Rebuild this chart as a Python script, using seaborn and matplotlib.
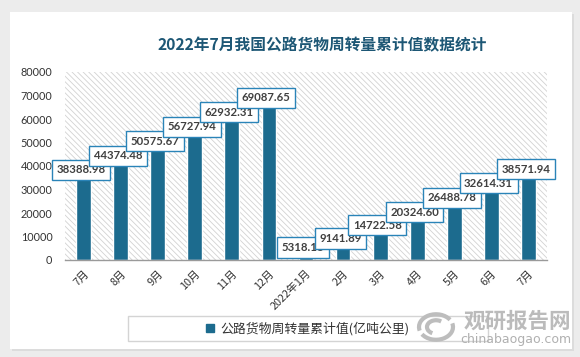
import matplotlib
matplotlib.use('Agg')
import matplotlib.pyplot as plt
import seaborn as sns
import pandas as pd
from matplotlib.patches import Rectangle, Arc
from matplotlib.lines import Line2D

# ---- data ----
categories = ['7月', '8月', '9月', '10月', '11月', '12月', '2022年1月',
              '2月', '3月', '4月', '5月', '6月', '7月']
values = [38388.98, 44374.48, 50575.67, 56727.94, 62932.31, 69087.65, 5318.18,
          9141.89, 14722.58, 20324.60, 26488.78, 32614.31, 38571.94]
series_name = '公路货物周转量累计值(亿吨公里)'
title_text = '2022年7月我国公路货物周转量累计值数据统计'
yticks = [0, 10000, 20000, 30000, 40000, 50000, 60000, 70000, 80000]

BAR = '#1c6b8e'
df = pd.DataFrame({'pos': list(range(len(values))), 'value': values})

sns.set_style('white')
plt.rcParams['font.family'] = ['Lato', 'Noto Sans CJK SC', 'DejaVu Sans']
plt.rcParams['hatch.linewidth'] = 0.6

fig = plt.figure(figsize=(5.8, 3.57), dpi=100, facecolor='#ececec')
W, H = 580, 357

# white card
fig.patches.append(Rectangle((12 / W, (H - 351) / H), 562 / W, (351 - 14) / H,
                             transform=fig.transFigure, facecolor='#dcdcdc',
                             edgecolor='none', zorder=-20))
fig.patches.append(Rectangle((10 / W, (H - 349) / H), 562 / W, (349 - 12) / H,
                             transform=fig.transFigure, facecolor='white',
                             edgecolor='none', zorder=-10))

ax = fig.add_axes([65 / W, (H - 260) / H, (547 - 65) / W, (260 - 72) / H])
ax.set_facecolor('none')
ax.add_patch(Rectangle((0, 0), 1, 1, transform=ax.transAxes, facecolor='white',
                       edgecolor='#d2d2d2', hatch='\\\\\\\\\\\\', lw=0, zorder=0))

sns.barplot(data=df, x='pos', y='value', color=BAR, width=0.4, saturation=1,
            ax=ax, zorder=2)

ax.set_ylim(0, 80000)
ax.set_xlim(-0.5, len(values) - 0.5)
ax.set_yticks(yticks)
ax.set_yticklabels([str(t) for t in yticks], fontsize=7.8, color='#333333',
                   family=['Lato'])
ax.set_xticks(range(len(categories)))
ax.set_xticklabels(categories, rotation=45, ha='right', rotation_mode='anchor',
                   fontsize=7.8, color='#333333', family=['Noto Sans CJK SC'])
ax.tick_params(axis='both', length=0)
ax.tick_params(axis='y', pad=9)
ax.tick_params(axis='x', pad=6)
ax.set_xlabel('')
ax.set_ylabel('')
for s in ['top', 'right', 'left']:
    ax.spines[s].set_visible(False)
ax.spines['bottom'].set_color('#9a9a9a')
ax.spines['bottom'].set_linewidth(1.0)
ax.spines['bottom'].set_zorder(3)

# data labels
for i, v in enumerate(values):
    ax.annotate(f'{v:.2f}', xy=(i, v), xytext=(-2, 0), textcoords='offset points',
                ha='center', va='center', fontsize=8.2, fontweight='bold',
                color='#404040', family=['Lato'], zorder=5,
                bbox=dict(boxstyle='square,pad=0.4', facecolor='white',
                          edgecolor='#2a84b8', linewidth=1.0))

# title
fig.text(322 / W, (H - 45) / H, title_text, ha='center', va='center',
         fontsize=11.3, fontweight='bold', color='#1d5775',
         family=['Noto Sans CJK SC'])

# legend box
fig.patches.append(Rectangle((128 / W, (H - 341) / H), (488 - 128) / W, 25 / H,
                             transform=fig.transFigure, facecolor='white',
                             edgecolor='#d4d4d4', lw=1.0, zorder=-5))
handle = Line2D([], [], marker='s', color=BAR, linestyle='none', markersize=6)
leg = fig.legend([handle], [series_name], loc='center',
                 bbox_to_anchor=(308 / W, (H - 328.5) / H), frameon=False,
                 handlelength=0.6, handletextpad=0.5,
                 prop={'family': ['Noto Sans CJK SC'], 'size': 9.3})
for t in leg.get_texts():
    t.set_color('#333333')

# watermark
fig.text(517 / W, (H - 321) / H, '观研报告网', ha='center', va='center',
         fontsize=15.5, fontweight='bold', color='#b4b4b4',
         family=['Noto Sans CJK SC'], alpha=0.9)
fig.text(516 / W, (H - 339) / H, 'chinabaogao.com', ha='center', va='center',
         fontsize=9, color='#b0b0b0', family=['DejaVu Sans'])
for r, a1, a2 in [(17, 40, 200), (17, 220, 380), (9, 60, 250)]:
    fig.patches.append(Arc((436 / W, (H - 327) / H), 2 * r / W, 2 * r * 0.75 / H,
                           theta1=a1, theta2=a2, transform=fig.transFigure,
                           color='#bdbdbd', lw=3))

fig.savefig('out.png', dpi=100, facecolor=fig.get_facecolor())
